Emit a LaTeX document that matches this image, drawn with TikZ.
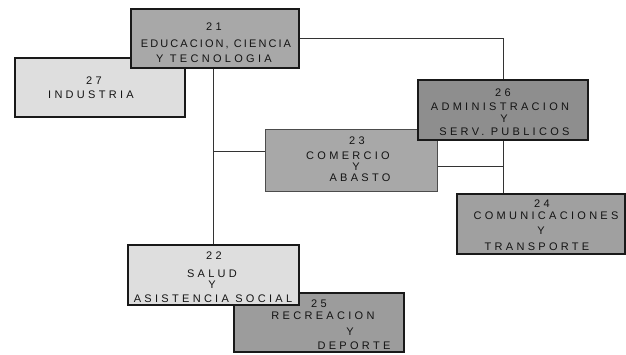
\documentclass[tikz,border=0pt]{standalone}
\usepackage{fontspec}
\newfontfamily\lsf[LetterSpace=30]{Liberation Sans}
\newfontfamily\lsg[LetterSpace=19]{Liberation Sans}
\definecolor{fmid}{HTML}{A8A8A8}
\definecolor{flight}{HTML}{DEDEDE}
\definecolor{fdark}{HTML}{8E8E8E}
\definecolor{fdarker}{HTML}{9C9C9C}
\definecolor{lin}{HTML}{333333}
\tikzset{
  box/.style={draw=black!90, line width=2.4pt, inner sep=0pt, outer sep=0pt},
  thinbox/.style={draw=black!70, line width=0.9pt, inner sep=0pt, outer sep=0pt},
  lbl/.style={anchor=base, inner sep=0pt, font=\fontsize{11}{12}\lsf, text=black!92},
  lblb/.style={anchor=base, inner sep=0pt, font=\fontsize{11}{12}\lsg, text=black!92},
  conn/.style={draw=lin, line width=0.9pt}
}
\begin{document}
\begin{tikzpicture}[x=1pt,y=-1pt]
\useasboundingbox (0,0) rectangle (626,354);
\path (215,38.5) coordinate (c21) (100,87.5) coordinate (c27) (503,110) coordinate (c26)
      (351,160) coordinate (c23) (541,224) coordinate (c24) (213.5,275) coordinate (c22) (319,322.5) coordinate (c25);
\coordinate (j1) at (213,151);
\coordinate (j2) at (503,166);
% box 27 (behind 21)
\node[box, fill=flight, minimum width=169.6pt, minimum height=58.6pt] (b27) at (c27) {};
% connectors
\draw[conn] (c21) -| (c26);
\draw[conn] (c26) -- (503,193);
\draw[conn] (c21 -| j1) -- (213,244);
\draw[conn] (j1) -- (265,151);
\draw[conn] (437,166) -- (j2);
% boxes
\node[box, fill=fmid, minimum width=167.6pt, minimum height=58.6pt] (b21) at (c21) {};
\node[thinbox, fill=fmid, minimum width=172pt, minimum height=62pt] (b23) at (c23) {};
\node[box, fill=fdark, minimum width=169.6pt, minimum height=59.6pt] (b26) at (c26) {};
\node[box, fill=fmid!95!black, minimum width=168.6pt, minimum height=59.6pt] (b24) at (c24) {};
\node[box, fill=fdarker, minimum width=169.6pt, minimum height=58.6pt] (b25) at (c25) {};
\node[box, fill=flight, minimum width=170.6pt, minimum height=59.6pt] (b22) at (c22) {};
% labels 21
\node[lbl] (t21a) at (214,30.2) {21};
\node[lblb] (t21b) at (216,47.9) {EDUCACION, CIENCIA};
\node[lbl] (t21c) at (214,62.2) {Y TECNOLOGIA};
% 27
\node[lbl] (t27a) at (94,84.2) {27};
\node[lbl] (t27b) at (91,98.9) {INDUSTRIA};
% 26
\node[lbl] (t26a) at (503,96.9) {26};
\node[lbl] (t26b) at (500,110.9) {ADMINISTRACION};
\node[lbl] (t26c) at (504,122.9) {Y};
\node[lbl] (t26d) at (504.5,135.9) {SERV. PUBLICOS};
% 23
\node[lbl] (t23a) at (357,144.9) {23};
\node[lbl] (t23b) at (348,159.9) {COMERCIO};
\node[lbl] (t23c) at (356,170.9) {Y};
\node[lbl] (t23d) at (360,181.9) {ABASTO};
% 24
\node[lbl] (t24a) at (542,207.9) {24};
\node[lbl] (t24b) at (546,219.4) {COMUNICACIONES};
\node[lbl] (t24c) at (541,234.9) {Y};
\node[lbl] (t24d) at (537,250.9) {TRANSPORTE};
% 22
\node[lbl] (t22a) at (214,259.9) {22};
\node[lbl] (t22b) at (212,277.9) {SALUD};
\node[lbl] (t22c) at (212,288.9) {Y};
\node[lbl] (t22d) at (213,302.9) {ASISTENCIA SOCIAL};
% 25
\node[lbl] (t25a) at (319,307.9) {25};
\node[lbl] (t25b) at (323,319.9) {RECREACION};
\node[lbl] (t25c) at (350,335.9) {Y};
\node[lbl] (t25d) at (354,349.4) {DEPORTE};
\end{tikzpicture}
\end{document}
